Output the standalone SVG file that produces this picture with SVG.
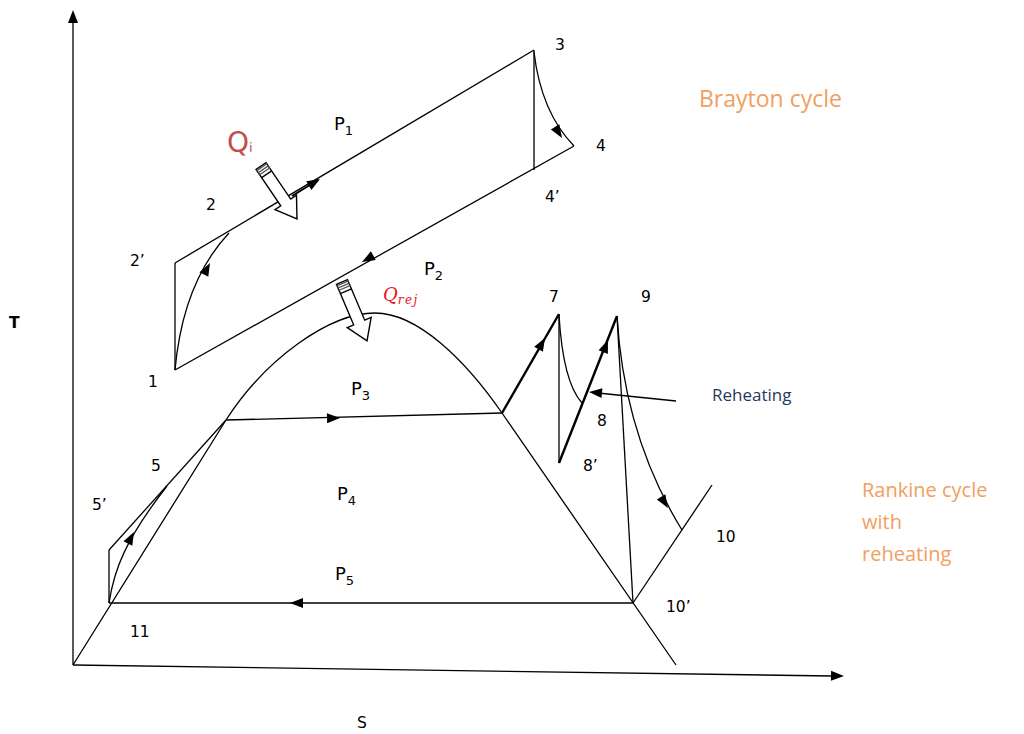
<svg xmlns="http://www.w3.org/2000/svg" width="1024" height="734" viewBox="0 0 1024 734">
<style>
.ln{fill:none;stroke:#000;stroke-width:1.3}
.thk{fill:none;stroke:#000;stroke-width:2.4}
.lbl{font-family:"DejaVu Sans",sans-serif;font-size:15.5px;fill:#000}
.p{font-family:"DejaVu Sans",sans-serif;font-size:18px;fill:#000}
.ps{font-size:13px}
.or{font-family:"Open Sans","Noto Sans",sans-serif;fill:#F0A060}
</style>
<defs>
<path id="ah" d="M0,0 L-13,-5 L-13,5 z" fill="#000"/>
<g id="hollow">
<polygon points="0,-6 44,-6 44,-13 64,0 44,13 44,6 0,6" fill="#fff" stroke="#000" stroke-width="1.4"/>
<line x1="1.5" y1="-6.5" x2="1.5" y2="6.5" stroke="#555" stroke-width="1.3"/>
<line x1="4" y1="-6.5" x2="4" y2="6.5" stroke="#555" stroke-width="1.3"/>
<line x1="6.5" y1="-6.5" x2="6.5" y2="6.5" stroke="#555" stroke-width="1.3"/>
<line x1="10" y1="-6" x2="10" y2="6" stroke="#000" stroke-width="1.3"/>
</g>
</defs>

<g id="axes">
<line class="ln" x1="73" y1="665" x2="73" y2="22"/>
<use href="#ah" transform="translate(73,10) rotate(-90)"/>
<line class="ln" x1="73" y1="665" x2="832" y2="676"/>
<use href="#ah" transform="translate(844,676) rotate(0.8)"/>
<text class="lbl" x="9" y="328" font-weight="bold" font-size="13">T</text>
<text class="lbl" x="357" y="728">S</text>
</g>

<g id="connectors">
<!-- Brayton -->
<line class="ln" x1="175" y1="370" x2="175" y2="263"/>
<line class="ln" x1="175" y1="263" x2="534" y2="50"/>
<line class="ln" x1="534" y1="50" x2="534" y2="170"/>
<line class="ln" x1="175" y1="370" x2="574" y2="146"/>
<path class="ln" d="M175,370 Q183,282 229,233"/>
<path class="ln" d="M534,52 Q541,112 574,146"/>
<line x1="292" y1="196" x2="318" y2="180" stroke="#000" stroke-width="2"/>
<use href="#ah" transform="translate(320,179) rotate(-30.8)"/>
<use href="#ah" transform="translate(362,262) rotate(150.7)"/>
<use href="#ah" transform="translate(210,263) rotate(-62)"/>
<use href="#ah" transform="translate(562,138) rotate(58)"/>
<!-- Dome -->
<path class="ln" d="M73,665 L226,420 C266,358 330,313 375,313 C418,313 466,361 502,413 L676,665"/>
<!-- Rankine -->
<line class="ln" x1="226" y1="420" x2="502" y2="413"/>
<use href="#ah" transform="translate(340,418) rotate(-1.5)"/>
<line class="thk" x1="502" y1="413" x2="559" y2="314"/>
<use href="#ah" transform="translate(545,338) rotate(-60.3)"/>
<line class="ln" x1="559" y1="314" x2="559" y2="463"/>
<path class="ln" d="M559,315 Q563,382 582,403"/>
<line class="thk" x1="559" y1="463" x2="617" y2="316"/>
<use href="#ah" transform="translate(608,340) rotate(-68.5)"/>
<line class="ln" x1="617" y1="316" x2="633" y2="603"/>
<path class="ln" d="M617,316 C622,400 645,470 682,530"/>
<use href="#ah" transform="translate(668,508) rotate(58)"/>
<line class="ln" x1="633" y1="603" x2="712" y2="485"/>
<line class="ln" x1="109" y1="603" x2="633" y2="603"/>
<use href="#ah" transform="translate(290,603) rotate(180)"/>
<line class="ln" x1="109" y1="603" x2="109" y2="550"/>
<line class="ln" x1="109" y1="550" x2="226" y2="420"/>
<path class="ln" d="M109,603 C114,570 125,540 167,486"/>
<use href="#ah" transform="translate(134,532) rotate(-62)"/>
<line class="ln" x1="676" y1="401" x2="598" y2="393"/>
<use href="#ah" transform="translate(589,392) rotate(185)"/>
<!-- heat arrows -->
<use href="#hollow" transform="translate(261,166) rotate(55.8)"/>
<use href="#hollow" transform="translate(342,282) rotate(67)"/>
</g>

<g id="labels">
<text class="lbl" x="148" y="387">1</text>
<text class="lbl" x="206" y="210">2</text>
<text class="lbl" x="130" y="266">2’</text>
<text class="lbl" x="555" y="50">3</text>
<text class="lbl" x="596" y="151">4</text>
<text class="lbl" x="545" y="202">4’</text>
<text class="lbl" x="151" y="471">5</text>
<text class="lbl" x="92" y="510">5’</text>
<text class="lbl" x="549" y="302">7</text>
<text class="lbl" x="597" y="426">8</text>
<text class="lbl" x="583" y="471">8’</text>
<text class="lbl" x="641" y="302">9</text>
<text class="lbl" x="716" y="542">10</text>
<text class="lbl" x="666" y="612">10’</text>
<text class="lbl" x="130" y="637">11</text>
<text class="p" x="334" y="130">P<tspan class="ps" dy="5">1</tspan></text>
<text class="p" x="424" y="275">P<tspan class="ps" dy="5">2</tspan></text>
<text class="p" x="351" y="395">P<tspan class="ps" dy="5">3</tspan></text>
<text class="p" x="337" y="500">P<tspan class="ps" dy="5">4</tspan></text>
<text class="p" x="335" y="580">P<tspan class="ps" dy="5">5</tspan></text>
<text x="227" y="152" font-family="DejaVu Sans,sans-serif" font-size="28" fill="#C0504D">Q<tspan font-size="13">i</tspan></text>
<text x="383" y="301" font-family="DejaVu Serif,serif" font-style="italic" font-size="18" fill="#E8141C">Q<tspan font-size="12" dy="3" letter-spacing="1.5">rej</tspan></text>
<text x="712" y="401" font-family="Open Sans,Noto Sans,sans-serif" font-size="17" fill="#1F3864">Reheating</text>
<text class="or" x="699" y="107" font-size="23">Brayton cycle</text>
<text class="or" x="862" y="497" font-size="20">Rankine cycle</text>
<text class="or" x="862" y="529" font-size="20">with</text>
<text class="or" x="862" y="561" font-size="20">reheating</text>
</g>
</svg>
